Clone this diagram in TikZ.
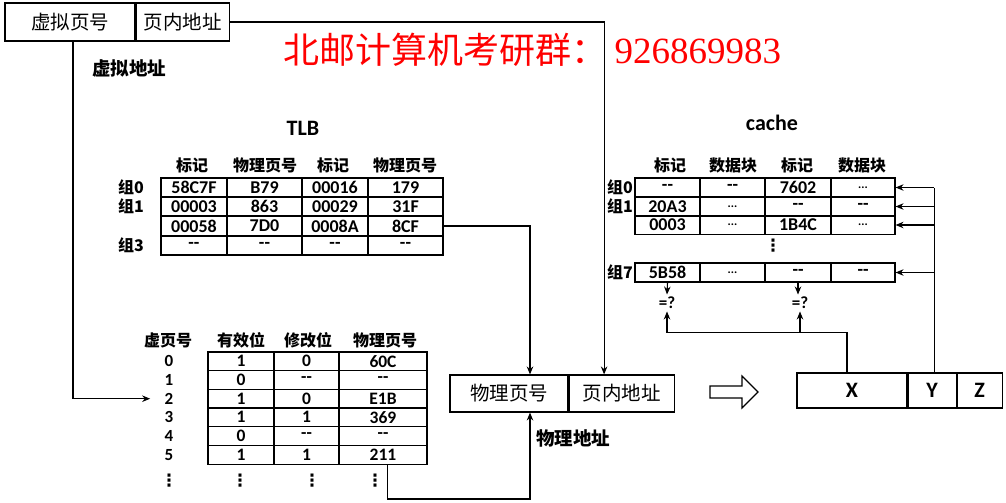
\documentclass[tikz,border=0pt]{standalone}
\usepackage{fontspec}
\setmainfont{Carlito}
\newfontfamily\cjk{Noto Sans CJK SC}
\newfontfamily\wmnum{Liberation Serif}
\newfontfamily\sym{DejaVu Sans}
\usepackage{tikz}
\usetikzlibrary{arrows.meta, positioning}
\tikzset{>={Stealth[length=8pt,width=6.5pt]}}
\newcommand\nodata{-{}-}
\newcommand\more{{\fontsize{12}{12}\selectfont...}}
\newcommand\vdts{{\sym\bfseries ⋮}}
\tikzset{
  cell/.style={draw, minimum height=19, inner sep=0, font=\bfseries\fontsize{18}{18}\selectfont},
  pcell/.style={cell, minimum height=18.7, font=\bfseries\fontsize{17.5}{17.5}\selectfont},
  abox/.style={draw, minimum height=38, inner sep=0, font=\cjk\fontsize{19.5}{19.5}\selectfont},
  xbox/.style={draw, minimum height=35, inner sep=0, font=\bfseries\fontsize{22}{22}\selectfont},
  hd/.style={inner sep=1, font=\cjk\bfseries\fontsize{16}{16}\selectfont},
  glab/.style={inner sep=0, font=\cjk\bfseries\fontsize{16}{16}\selectfont},
  vlab/.style={inner sep=2, font=\bfseries\fontsize{17}{17}\selectfont},
  dts/.style={inner sep=0, font=\fontsize{17}{17}\selectfont},
  lbl/.style={inner sep=1, font=\cjk\bfseries\fontsize{18.5}{18.5}\selectfont},
  title/.style={font=\bfseries\fontsize{22}{22}\selectfont},
  eq/.style={inner sep=2, font=\bfseries\fontsize{17}{17}\selectfont}
}

\begin{document}
\begin{tikzpicture}[x=1pt, y=-1pt, >={Stealth[length=8pt,width=6.5pt]}, line width=1.1pt]
		\useasboundingbox (0,0) rectangle (1006,503);
		% virtual address
		\node[abox, minimum width=130] (VPN) at (70,22) {虚拟页号};
		\node[abox, minimum width=93, right=0pt of VPN] (VOF) {页内地址};
		\node[lbl] (VA) at (129,68) {虚拟地址};
		\node[anchor=west, inner sep=0, text=red] (WM) at (283,50)
			{\cjk\fontsize{36}{36}\selectfont 北邮计算机考研群：\hspace{7pt}\wmnum\fontsize{37}{37}\selectfont 926869983};
		% TLB
		\node[title] (TLB) at (303,128) {TLB};
		\foreach \x/\t [count=\i] in {192/标记, 265/物理页号, 333/标记, 405/物理页号}
			\node[hd] (th\i) at (\x,165) {\t};
		\foreach \r/\y/\a/\b/\c/\d in {0/187.5/58C7F/B79/00016/179, 1/206.5/00003/863/00029/31F,
				2/226/00058/7D0/0008A/8CF, 3/245.5/\nodata/\nodata/\nodata/\nodata}{
			\node[cell, minimum width=66] (t\r0) at (194,\y) {\a};
			\node[cell, minimum width=75] (t\r1) at (264.5,\y) {\b};
			\node[cell, minimum width=66] (t\r2) at (335,\y) {\c};
			\node[cell, minimum width=75] (t\r3) at (405.5,\y) {\d};
		}
		\node[glab] (tg0) at (131,187.5) {组0};
		\node[glab] (tg1) at (131,206.5) {组1};
		\node[glab] (tg3) at (131,245.5) {组3};
		% cache
		\node[title] (CA) at (772,123) {cache};
		\foreach \x/\t [count=\i] in {670/标记, 733/数据块, 797/标记, 862/数据块}
			\node[hd] (ch\i) at (\x,165) {\t};
		\foreach \r/\y/\a/\b/\c/\d in {0/187.5/\nodata/\nodata/7602/\more, 1/206.5/20A3/\more/\nodata/\nodata,
				2/225/0003/\more/1B4C/\more, 7/272.5/5B58/\more/\nodata/\nodata}{
			\node[cell, minimum width=65] (c\r0) at (667.5,\y) {\a};
			\node[cell, minimum width=65] (c\r1) at (732.5,\y) {\b};
			\node[cell, minimum width=66] (c\r2) at (798,\y) {\c};
			\node[cell, minimum width=64] (c\r3) at (863,\y) {\d};
		}
		\node[glab] (cg0) at (620,187.5) {组0};
		\node[glab] (cg1) at (620,206.5) {组1};
		\node[glab] (cg7) at (620,272.5) {组7};
		\node[dts] (cd) at (773,246) {\vdts};
		% page table
		\foreach \x/\t [count=\i] in {168/虚页号, 241/有效位, 308/修改位, 385/物理页号}
			\node[hd] (ph\i) at (\x,340) {\t};
		\foreach \r/\y/\a/\b/\c in {0/361.3/1/0/60C, 1/380/0/\nodata/\nodata, 2/398.7/1/0/E1B,
				3/417.3/1/1/369, 4/436/0/\nodata/\nodata, 5/454.7/1/1/211}{
			\node[vlab] (v\r) at (169,\y) {\r};
			\node[pcell, minimum width=66] (p\r0) at (241,\y) {\a};
			\node[pcell, minimum width=65] (p\r1) at (306.5,\y) {\b};
			\node[pcell, minimum width=88] (p\r2) at (383,\y) {\c};
		}
		\foreach \x [count=\i] in {169,240,312,375}
			\node[dts] (pd\i) at (\x,481) {\vdts};
		% physical address
		\node[abox, minimum width=118, minimum height=37] (PPN) at (509,393.5) {物理页号};
		\node[abox, minimum width=105, minimum height=37, right=0pt of PPN] (POF) {页内地址};
		\node[lbl] (PA) at (573,438) {物理地址};
		\draw (710,386) -- (742,386) -- (742,376) -- (758,392) -- (742,408) -- (742,398) -- (710,398) -- cycle;
		\node[xbox, minimum width=110] (X) at (852,390.5) {X};
		\node[xbox, minimum width=48, right=0pt of X] (Y) {Y};
		\node[xbox, minimum width=45, right=0pt of Y] (Z) {Z};
		\node[eq] (E1) at (667,303) {=?};
		\node[eq] (E2) at (800,303) {=?};
		% connectors
		\coordinate (PB) at (530,499);
		\coordinate (XJ) at ([xshift=-5pt,yshift=40pt]X.north);
		\coordinate (YT) at ([xshift=2pt]Y.north);
		\draw[->] (VOF.east) -| ([xshift=-17.5pt]POF.north);
		\draw[->, shorten >=12pt] ([xshift=3pt]VPN.south) |- (v2.west);
		\draw[->] (t23.east) -| ([xshift=21pt]PPN.north);
		\draw[->] ([xshift=4.5pt]p52.south) |- (PB) -- (PB |- PPN.south);
		\draw[->] ([xshift=-5pt]X.north) -- (XJ) -| (E1.south);
		\draw[->] (E2.south |- XJ) -- (E2.south);
		\draw[->] (c70.south) -- (E1.north);
		\draw[->] (c72.south) -- (c72.south |- E2.north);
		\draw (YT) -- (YT |- c03.east);
		\foreach \r in {0,1,2,7} \draw[->] (YT |- c\r3.east) -- (c\r3.east);
\end{tikzpicture}
\end{document}
